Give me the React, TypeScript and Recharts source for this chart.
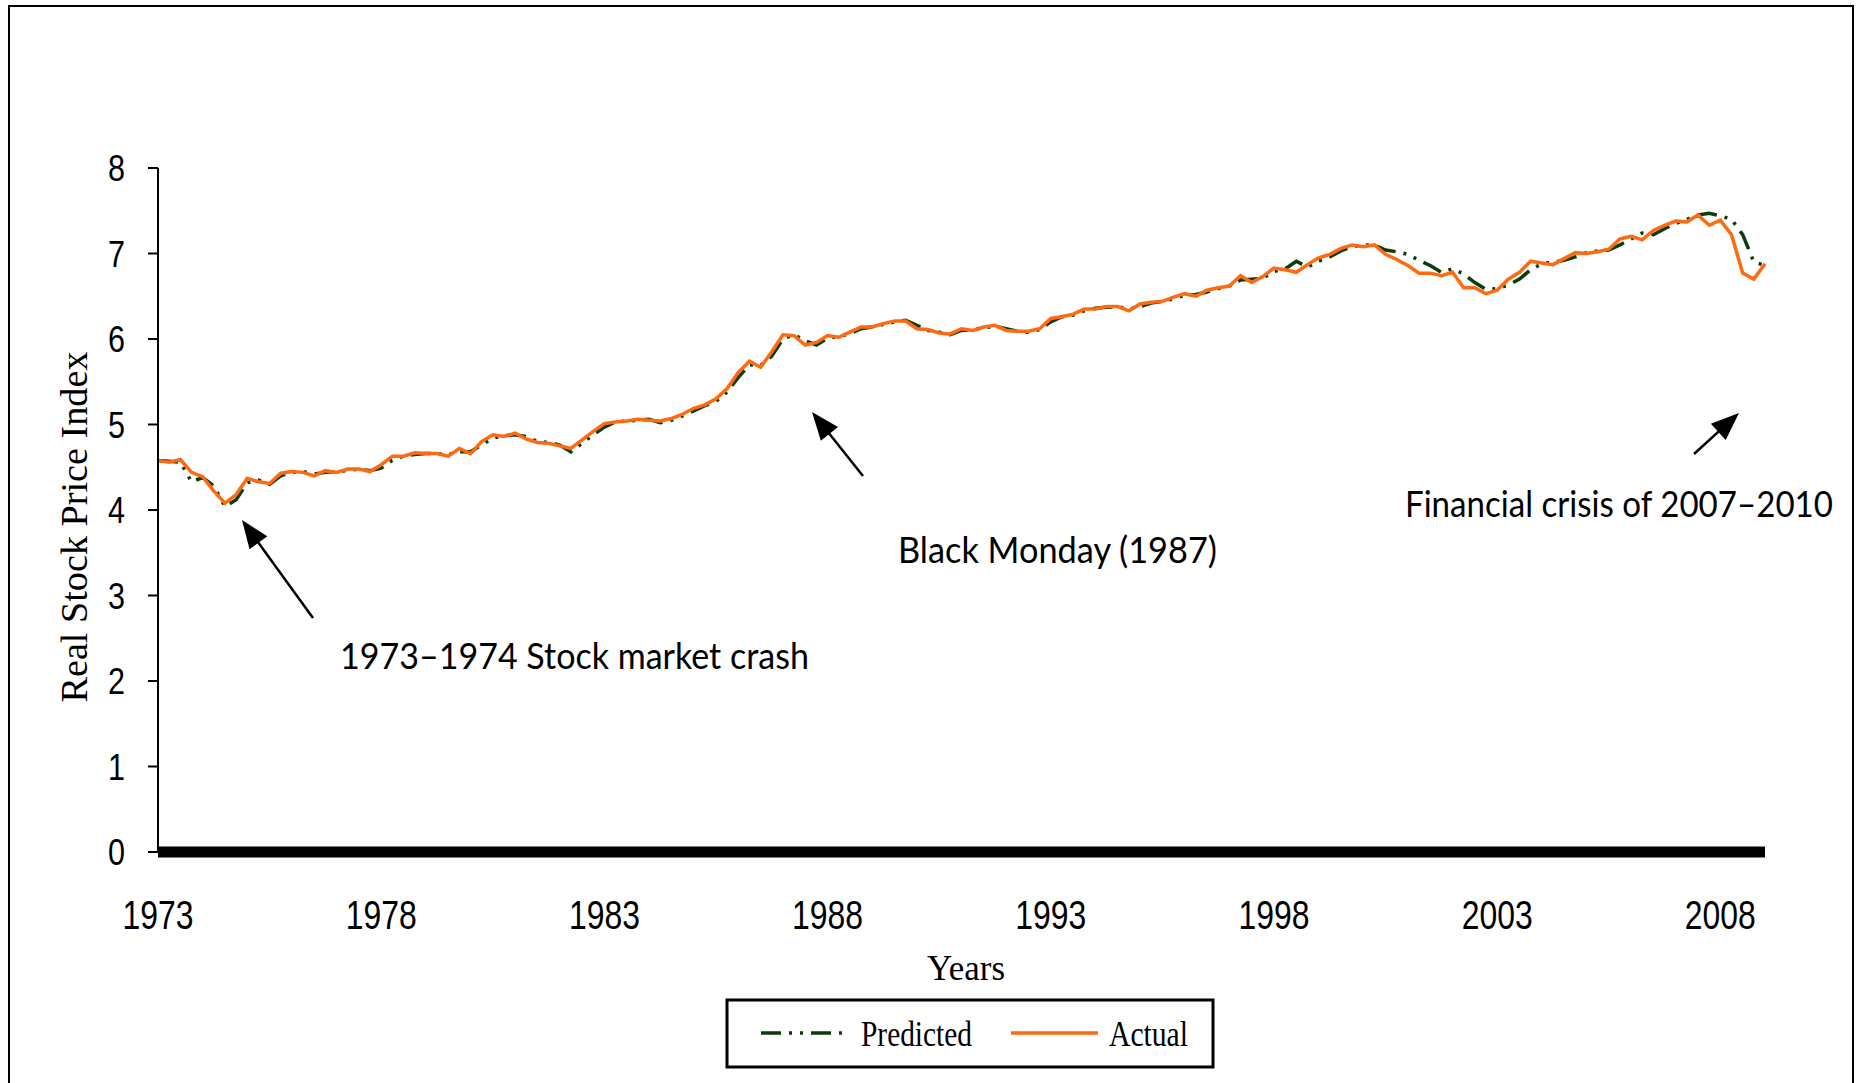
import React from "react";
import { LineChart, Line, XAxis, YAxis } from "recharts";

// quarterly observations, first one is 1973 Q1, last one is 2009 Q1
const startYear = 1973;
const yearTicks = [1973, 1978, 1983, 1988, 1993, 1998, 2003, 2008];
const indexTicks = [0, 1, 2, 3, 4, 5, 6, 7, 8];

const actual = [
  4.58, 4.56, 4.59, 4.44,
  4.39, 4.22, 4.08, 4.18,
  4.37, 4.33, 4.31, 4.43,
  4.45, 4.44, 4.40, 4.46,
  4.44, 4.48, 4.48, 4.45,
  4.53, 4.63, 4.63, 4.67,
  4.66, 4.66, 4.63, 4.72,
  4.66, 4.80, 4.88, 4.86,
  4.90, 4.83, 4.79, 4.78,
  4.75, 4.72, 4.82, 4.92,
  5.01, 5.03, 5.04, 5.06,
  5.05, 5.04, 5.07, 5.12,
  5.19, 5.23, 5.30, 5.42,
  5.61, 5.74, 5.67, 5.85,
  6.05, 6.04, 5.93, 5.96,
  6.04, 6.02, 6.08, 6.14,
  6.14, 6.18, 6.21, 6.21,
  6.12, 6.11, 6.07, 6.06,
  6.12, 6.10, 6.14, 6.16,
  6.10, 6.09, 6.09, 6.12,
  6.24, 6.26, 6.29, 6.35,
  6.35, 6.38, 6.38, 6.33,
  6.41, 6.43, 6.44, 6.49,
  6.53, 6.50, 6.57, 6.60,
  6.62, 6.74, 6.66, 6.73,
  6.83, 6.81, 6.78, 6.87,
  6.95, 6.99, 7.06, 7.10,
  7.08, 7.10, 6.99, 6.93,
  6.86, 6.77, 6.77, 6.74,
  6.78, 6.60, 6.60, 6.53,
  6.57, 6.70, 6.78, 6.91,
  6.89, 6.87, 6.94, 7.01,
  7.00, 7.02, 7.05, 7.17,
  7.20, 7.16, 7.27, 7.33,
  7.38, 7.37, 7.45, 7.33,
  7.39, 7.22, 6.77, 6.70,
  6.88,
];

const predicted = [
  4.58, 4.57, 4.56, 4.33,
  4.38, 4.28, 4.04, 4.12,
  4.32, 4.35, 4.30, 4.40,
  4.44, 4.45, 4.42, 4.44,
  4.45, 4.46, 4.48, 4.46,
  4.49, 4.58, 4.63, 4.65,
  4.66, 4.66, 4.65, 4.68,
  4.68, 4.76, 4.84, 4.87,
  4.88, 4.86, 4.80, 4.79,
  4.76, 4.68, 4.78, 4.88,
  4.97, 5.03, 5.04, 5.05,
  5.06, 5.02, 5.05, 5.10,
  5.16, 5.22, 5.27, 5.38,
  5.55, 5.70, 5.69, 5.80,
  6.00, 6.05, 5.98, 5.93,
  6.01, 6.03, 6.06, 6.12,
  6.14, 6.17, 6.20, 6.22,
  6.16, 6.10, 6.08, 6.05,
  6.10, 6.11, 6.13, 6.15,
  6.12, 6.09, 6.08, 6.11,
  6.20, 6.26, 6.28, 6.33,
  6.36, 6.37, 6.38, 6.35,
  6.38, 6.42, 6.44, 6.47,
  6.51, 6.52, 6.55, 6.59,
  6.62, 6.69, 6.70, 6.71,
  6.79, 6.82, 6.91, 6.84,
  6.91, 6.96, 7.03, 7.08,
  7.10, 7.10, 7.04, 7.02,
  6.99, 6.92, 6.86, 6.78,
  6.82, 6.76, 6.66, 6.58,
  6.59, 6.63, 6.70, 6.81,
  6.88, 6.90, 6.92, 6.96,
  7.01, 7.03, 7.04, 7.10,
  7.17, 7.24, 7.22, 7.29,
  7.35, 7.40, 7.45, 7.47,
  7.44, 7.40, 7.22, 6.90,
  6.86,
];

const data = actual.map((v, i) => ({
  year: startYear + i / 4,
  actual: v,
  predicted: predicted[i],
}));

const ORANGE = "#ff6a10";
const GREEN = "#0b3d0b";
const DASH = "20 8 3 8 3 8";

const YearTick = ({ x, y, payload }: any) => (
  <text
    x={x}
    y={y + 77}
    textAnchor="middle"
    fontFamily="'Liberation Sans', Arial, sans-serif"
    fontSize={40}
    textLength={71}
    lengthAdjust="spacingAndGlyphs"
    fill="#000"
  >
    {payload.value}
  </text>
);

const IndexTick = ({ x, y, payload }: any) => (
  <text
    x={x}
    y={y + 13}
    textAnchor="end"
    fontFamily="'Liberation Sans', Arial, sans-serif"
    fontSize={36}
    textLength={17}
    lengthAdjust="spacingAndGlyphs"
    fill="#000"
  >
    {payload.value}
  </text>
);

function Arrow({ x1, y1, x2, y2 }: { x1: number; y1: number; x2: number; y2: number }) {
  const dx = x2 - x1;
  const dy = y2 - y1;
  const len = Math.sqrt(dx * dx + dy * dy);
  const ux = dx / len;
  const uy = dy / len;
  const head = 28;
  const half = 11;
  const bx = x2 - ux * head;
  const by = y2 - uy * head;
  const pts = `${x2},${y2} ${bx - uy * half},${by + ux * half} ${bx + uy * half},${by - ux * half}`;
  return (
    <g>
      <line x1={x1} y1={y1} x2={bx + ux * 4} y2={by + uy * 4} stroke="#000" strokeWidth={2.5} />
      <polygon points={pts} fill="#000" />
    </g>
  );
}

// annotation text: narrow and tall like the original, so it is squeezed to width and stretched in height
function Note({ x, y, width, children }: { x: number; y: number; width: number; children: string }) {
  return (
    <text
      transform={`translate(${x},${y}) scale(1,1.2)`}
      fontFamily="Lato, 'Open Sans', sans-serif"
      fontSize={30}
      textLength={width}
      lengthAdjust="spacingAndGlyphs"
      fill="#000"
    >
      {children}
    </text>
  );
}

const serif = "'Liberation Serif', 'Times New Roman', serif";

export default function App() {
  return (
    <div style={{ position: "fixed", left: 0, top: 0, width: 1866, height: 1083, background: "#fff", overflow: "hidden" }}>
      <div
        style={{
          position: "absolute",
          left: 8,
          top: 5,
          width: 1846,
          height: 1200,
          border: "2.5px solid #000",
          boxSizing: "border-box",
        }}
      />
      <div style={{ position: "absolute", left: 0, top: 0 }}>
        <LineChart width={1866} height={1083} data={data} margin={{ top: 168, right: 101, bottom: 171, left: 98 }}>
          <XAxis
            dataKey="year"
            type="number"
            domain={[1973, 2009]}
            ticks={yearTicks}
            height={60}
            tickLine={false}
            tickSize={0}
            tickMargin={0}
            axisLine={{ stroke: "#000", strokeWidth: 11 }}
            tick={<YearTick />}
            interval={0}
          />
          <YAxis
            type="number"
            domain={[0, 8]}
            ticks={indexTicks}
            width={60}
            tickSize={10}
            tickMargin={23}
            axisLine={{ stroke: "#000", strokeWidth: 2 }}
            tickLine={{ stroke: "#000", strokeWidth: 2 }}
            tick={<IndexTick />}
            interval={0}
          />
          <Line
            dataKey="predicted"
            type="linear"
            stroke={GREEN}
            strokeWidth={3.5}
            strokeDasharray={DASH}
            dot={false}
            isAnimationActive={false}
          />
          <Line
            dataKey="actual"
            type="linear"
            stroke={ORANGE}
            strokeWidth={3.5}
            dot={false}
            isAnimationActive={false}
          />
        </LineChart>
      </div>
      <svg width={1866} height={1083} style={{ position: "absolute", left: 0, top: 0, pointerEvents: "none" }}>
        <text
          transform="translate(87,527) rotate(-90)"
          textAnchor="middle"
          fontFamily={serif}
          fontSize={38}
          textLength={351}
          lengthAdjust="spacingAndGlyphs"
        >
          Real Stock Price Index
        </text>
        <text x={966} y={980} textAnchor="middle" fontFamily={serif} fontSize={35} textLength={78} lengthAdjust="spacingAndGlyphs">
          Years
        </text>

        <Arrow x1={313} y1={618} x2={242} y2={520} />
        <Arrow x1={863} y1={476} x2={812} y2={412} />
        <Arrow x1={1694} y1={454} x2={1739} y2={413} />
        <Note x={340} y={669} width={469}>1973–1974 Stock market crash</Note>
        <Note x={898} y={563} width={319}>Black Monday (1987)</Note>
        <Note x={1405} y={517} width={428}>Financial crisis of 2007–2010</Note>

        <rect x={727} y={1000} width={486} height={67} fill="#fff" stroke="#000" strokeWidth={3} />
        <line x1={761} y1={1033} x2={842} y2={1033} stroke={GREEN} strokeWidth={3.5} strokeDasharray={DASH} />
        <text x={861} y={1046} fontFamily={serif} fontSize={35} textLength={111} lengthAdjust="spacingAndGlyphs">
          Predicted
        </text>
        <line x1={1011} y1={1033} x2={1098} y2={1033} stroke={ORANGE} strokeWidth={3.5} />
        <text x={1109} y={1046} fontFamily={serif} fontSize={35} textLength={79} lengthAdjust="spacingAndGlyphs">
          Actual
        </text>
      </svg>
    </div>
  );
}
